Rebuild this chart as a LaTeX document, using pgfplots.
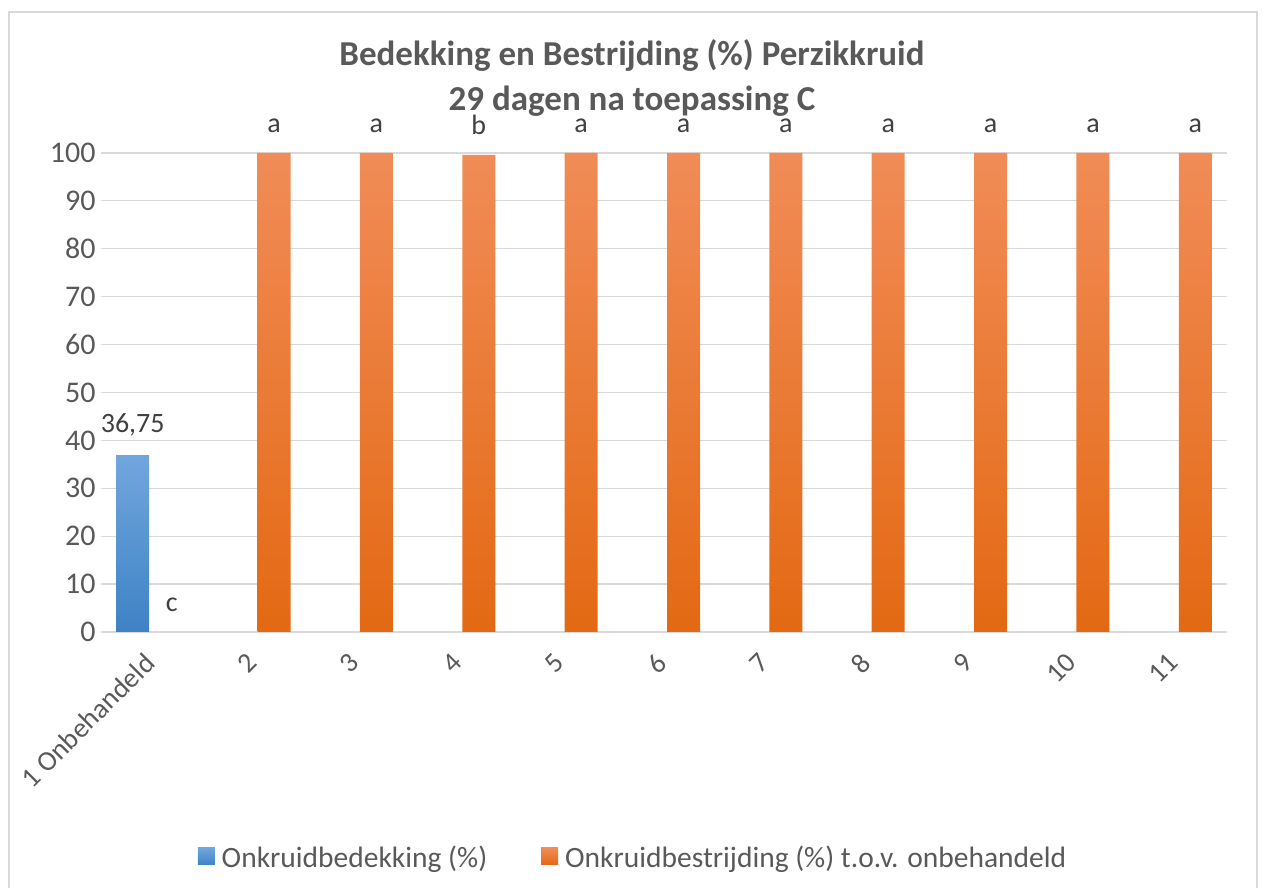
\documentclass[border=0pt]{standalone}
\usepackage{pgfplots}
\pgfplotsset{compat=1.18}
\usepackage{pgfplotstable}
\usepackage{fontspec}
\setmainfont{Carlito}
\definecolor{txt}{HTML}{595959}
\definecolor{lbl}{HTML}{404040}
\definecolor{grd}{HTML}{D9D9D9}
\definecolor{btop}{HTML}{71A6DD}
\definecolor{bbot}{HTML}{3E82C5}
\definecolor{otop}{HTML}{F18C57}
\definecolor{obot}{HTML}{E36913}
\pgfplotstableread{
x y lab
1 36.75 {36,75}
}\bedekking
\pgfplotstableread{
x y lab
2 100 a
3 100 a
4 99.6 b
5 100 a
6 100 a
7 100 a
8 100 a
9 100 a
10 100 a
11 100 a
}\bestrijding
\pgfplotstableread{
x y lab
1 0 c
}\bestrijdingnul
\begin{document}
\begin{tikzpicture}
\path[use as bounding box] (0bp,0bp) rectangle (1262bp,888bp);
\draw[grd, line width=1.5bp] (9bp,-10bp) -- (9bp,876bp) -- (1257bp,876bp) -- (1257bp,-10bp);
\node[txt, font=\fontsize{35bp}{45bp}\selectfont\bfseries, align=center] at (632bp,810bp)
  {Bedekking en Bestrijding (\%) Perzikkruid\\29 dagen na toepassing C};
\begin{axis}[
  at={(101bp,256bp)}, anchor=south west,
  scale only axis, width=1126bp, height=479bp,
  xmin=0.5, xmax=11.5, ymin=0, ymax=100,
  ytick={0,10,...,100},
  xtick={1,...,11},
  xticklabels={1 Onbehandeld,2,3,4,5,6,7,8,9,10,11},
  ymajorgrids, grid style={grd, line width=1.2bp},
  axis x line*=bottom, axis y line*=left,
  x axis line style={grd, line width=1.5bp, -},
  y axis line style={draw=none},
  tick style={draw=none},
  major tick length=0pt,
  /pgf/number format/assume math mode=true,
  tick label style={txt, font=\fontsize{28bp}{32bp}\selectfont},
  yticklabel style={xshift=-2bp, font=\fontsize{30bp}{34bp}\selectfont},
  xticklabel style={rotate=45, anchor=east},
  xticklabel shift=24bp,
  ybar, bar width=33bp,
  nodes near coords,
  point meta=explicit symbolic,
  nodes near coords style={lbl, font=\fontsize{28bp}{32bp}\selectfont, anchor=south, yshift=17bp},
  legend columns=2,
  legend style={at={(0.4725,-0.4697)}, anchor=center, draw=none, fill=none,
    font=\fontsize{29.5bp}{33bp}\selectfont, text=txt,
    /tikz/every even column/.append style={column sep=52bp}},
  legend image code/.code={\path[#1, draw=none] (0bp,-8bp) rectangle (17bp,9bp); \path (22bp,0bp);},
  clip=false,
]
\addplot[draw=none, top color=btop, bottom color=bbot, bar shift=-19.5bp,
  nodes near coords style={yshift=-1bp}]
  table[x=x, y=y, meta=lab] {\bedekking};
\addlegendentry{Onkruidbedekking (\%)}
\addplot[draw=none, top color=otop, bottom color=obot, bar shift=19.5bp]
  table[x=x, y=y, meta=lab] {\bestrijding};
\addlegendentry{Onkruidbestrijding (\%) t.o.v. onbehandeld}
\addplot[draw=none, fill=none, bar shift=19.5bp, forget plot]
  table[x=x, y=y, meta=lab] {\bestrijdingnul};
\end{axis}
\end{tikzpicture}
\end{document}
